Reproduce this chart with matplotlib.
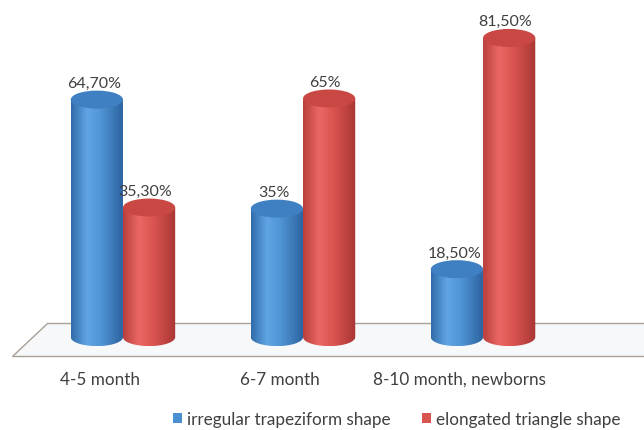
import matplotlib

matplotlib.use("Agg")
import matplotlib.pyplot as plt
import numpy as np
from matplotlib.colors import LinearSegmentedColormap
from matplotlib.patches import Ellipse, Patch, PathPatch, Polygon
from matplotlib.path import Path

CATEGORIES = ["4-5 month", "6-7 month", "8-10 month, newborns"]
SERIES = ["irregular trapeziform shape", "elongated triangle shape"]
TRAPEZIFORM = [64.7, 35.0, 18.5]
TRIANGLE = [35.3, 65.0, 81.5]
TRAPEZIFORM_LABELS = ["64,70%", "35%", "18,50%"]
TRIANGLE_LABELS = ["35,30%", "65%", "81,50%"]

BAR_W = 0.29
CAP_H = 4.9  # height of the cylinder caps, in percent units
TEXT_COLOR = "#404040"

plt.rcParams["font.family"] = ["Lato", "DejaVu Sans"]

BLUE_CMAP = LinearSegmentedColormap.from_list(
    "blue_cyl", [(0.0, "#306ba9"), (0.3, "#60a4e4"), (0.55, "#5196d6"), (1.0, "#2b619e")]
)
RED_CMAP = LinearSegmentedColormap.from_list(
    "red_cyl", [(0.0, "#b93e3b"), (0.3, "#ea6864"), (0.55, "#dc5652"), (1.0, "#a93633")]
)


def cylinder(ax, xc, value, cmap, cap_color, z):
    x0, x1 = xc - BAR_W / 2, xc + BAR_W / 2
    t = np.linspace(np.pi, 2 * np.pi, 60)
    arc = np.column_stack([xc + BAR_W / 2 * np.cos(t), CAP_H / 2 * np.sin(t)])
    verts = np.vstack([[x0, value], arc, [x1, value], [x0, value]])
    body = PathPatch(Path(verts, closed=True), facecolor="none", edgecolor="none", zorder=z)
    ax.add_patch(body)
    grad = np.linspace(0, 1, 256).reshape(1, -1)
    im = ax.imshow(grad, cmap=cmap, extent=(x0, x1, -CAP_H / 2, value),
                   aspect="auto", interpolation="bicubic", zorder=z)
    im.set_clip_path(body)
    ax.add_patch(Ellipse((xc, value), BAR_W, CAP_H, facecolor=cap_color,
                         edgecolor="none", zorder=z + 0.5))


fig = plt.figure(figsize=(6.44, 4.31), dpi=100)
ax = fig.add_axes([0, 0, 1, 1])
ax.axis("off")

# floor of the 3-D plot area
floor = Polygon([(-0.617, -5.2), (3.3, -5.2), (3.3, 3.8), (-0.42, 3.8)], closed=True,
                facecolor="#f6f8fa", edgecolor="#aaa196", linewidth=1.0, zorder=1)
ax.add_patch(floor)

x = np.arange(len(CATEGORIES))
for i, xc in enumerate(x):
    cylinder(ax, xc - BAR_W / 2, TRAPEZIFORM[i], BLUE_CMAP, "#3f80c3", 3 + 2 * i)
    cylinder(ax, xc + BAR_W / 2, TRIANGLE[i], RED_CMAP, "#c94844", 4 + 2 * i)
    ax.annotate(TRAPEZIFORM_LABELS[i], (xc - BAR_W / 2, TRAPEZIFORM[i]), xytext=(-2, 12),
                textcoords="offset points", ha="center", va="center",
                fontsize=11.5, color=TEXT_COLOR, zorder=20)
    ax.annotate(TRIANGLE_LABELS[i], (xc + BAR_W / 2, TRIANGLE[i]), xytext=(-3, 12),
                textcoords="offset points", ha="center", va="center",
                fontsize=11.5, color=TEXT_COLOR, zorder=20)
    # category labels sit a little left of the group centre (3-D perspective)
    ax.text(xc - 0.13, -11.4, CATEGORIES[i], ha="center", va="center",
            fontsize=12.3, color=TEXT_COLOR)

ax.set_xlim(-0.683, 2.894)
ax.set_ylim(-25.3, 92.1)

handles = [Patch(facecolor="#4a8fd0"), Patch(facecolor="#d9534f")]
fig.legend(handles, SERIES, loc="center", bbox_to_anchor=(0.616, 0.026), ncol=2,
           frameon=False, handlelength=0.55, handleheight=0.55, handletextpad=0.3,
           columnspacing=1.8, fontsize=12.3, labelcolor=TEXT_COLOR)

fig.savefig("out.png", dpi=100)
